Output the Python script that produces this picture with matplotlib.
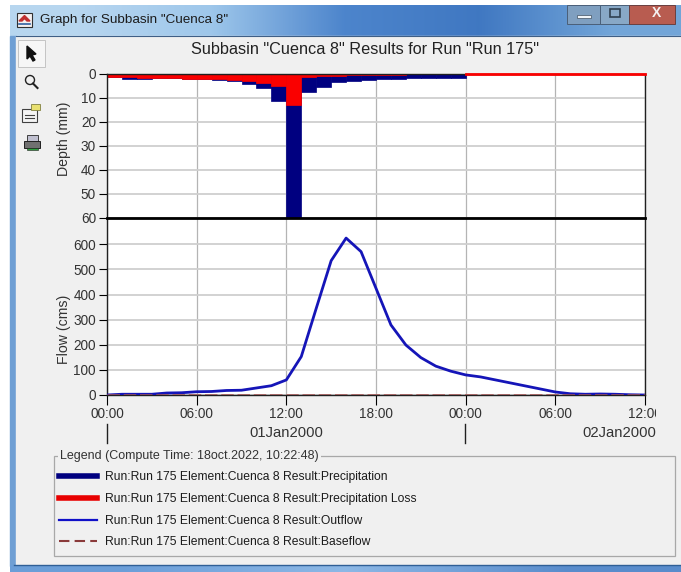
"""HEC-HMS style result window for subbasin Cuenca 8."""

import matplotlib

matplotlib.use("Agg")
import matplotlib.pyplot as plt
import numpy as np
from matplotlib.patches import Polygon, Rectangle

W, H = 681, 572

# hours since 01Jan2000 00:00
BAR_HOURS = list(range(24))
PRECIP = [1.2, 1.9, 1.9, 1.7, 1.8, 1.9, 2.0, 2.6, 3.0, 4.0, 6.0, 11.3,
          60.0, 7.6, 5.4, 3.5, 3.0, 2.5, 2.2, 2.2, 1.8, 1.7, 1.6, 1.5]
LOSS = [1.2, 1.4, 1.5, 1.7, 1.8, 1.9, 2.0, 2.2, 2.5, 3.0, 3.8, 5.0,
        13.0, 1.2, 1.0, 0.7, 0.5, 0.4, 0.3, 0.3, 0.2, 0.2, 0.2, 0.2]
LOSS_LINE_HOURS = [24, 36]
LOSS_LINE = [0, 0]

FLOW_HOURS = list(range(37))
OUTFLOW = [0, 3, 3, 3, 8, 9, 13, 14, 18, 19, 28, 37, 60, 153, 345, 535, 625,
           571, 425, 279, 199, 149, 115, 95, 80, 72, 60, 48, 36, 24, 12,
           5, 3, 4, 3, 1, 0]
BASEFLOW = [1] * 37

DEPTH_TICKS = [0, 10, 20, 30, 40, 50, 60]
FLOW_TICKS = [0, 100, 200, 300, 400, 500, 600]
TIME_TICKS = [0, 6, 12, 18, 24, 30, 36]
TIME_LABELS = ["00:00", "06:00", "12:00", "18:00", "00:00", "06:00", "12:00"]
LEGEND_LABELS = [
    "Run:Run 175 Element:Cuenca 8 Result:Precipitation",
    "Run:Run 175 Element:Cuenca 8 Result:Precipitation Loss",
    "Run:Run 175 Element:Cuenca 8 Result:Outflow",
    "Run:Run 175 Element:Cuenca 8 Result:Baseflow",
]

NAVY = "#000080"
RED = "#fa0000"
GRID_H = "#cfcfcf"
GRID_V = "#b4b4b4"
TEXT = "#333333"
WINDOW = "#f0f0f0"

plt.rcParams["font.family"] = ["Liberation Sans", "DejaVu Sans"]


def px_axes(fig, left, top, right, bottom):
    return fig.add_axes([left / W, 1 - bottom / H, (right - left) / W, (bottom - top) / H])


def draw_chrome(ax):
    ax.set_axis_off()
    # title bar and frame
    colors = np.array([[0.72, 0.84, 0.94], [0.62, 0.78, 0.92], [0.30, 0.52, 0.80],
                       [0.25, 0.47, 0.76], [0.45, 0.65, 0.85]])
    ax.imshow(colors[np.newaxis, :, :], extent=[10, W, 36, 5], aspect="auto",
              interpolation="bilinear", zorder=1)
    ax.add_patch(Rectangle((10, 36), 6, 530, color="#6f9fd4", zorder=1))
    ax.add_patch(Rectangle((16, 36), W - 16, 529, color=WINDOW, zorder=1))
    ax.plot([16, W], [36, 36], color="#3f5f86", lw=0.8, zorder=2)
    ax.imshow(np.array([[[0.42, 0.62, 0.85], [0.55, 0.72, 0.90], [0.35, 0.55, 0.80]]]),
              extent=[10, W, 572, 565], aspect="auto", interpolation="bilinear", zorder=1)
    ax.plot([14, W], [565, 565], color="#2f5f96", lw=1.0, zorder=2)
    ax.text(40, 20, 'Graph for Subbasin "Cuenca 8"', fontsize=9.7, color="#1c1c1c",
            va="center", zorder=3)

    # app icon
    ax.add_patch(Rectangle((17, 13), 15, 14, fc="#f4f0f0", ec="#303030", lw=0.8, zorder=3))
    ax.add_patch(Polygon([(19, 21), (24.5, 15.5), (30, 21), (27, 21), (24.5, 18.5), (22, 21)],
                         color="#c03030", zorder=4))
    ax.plot([19, 30], [24, 24], color="#3060a0", lw=1.2, zorder=4)

    # window buttons
    ax.add_patch(Rectangle((567, 5), 33, 19, fc="#7f9fc0", ec="#4a5f78", lw=0.7, zorder=3))
    ax.add_patch(Rectangle((600, 5), 29, 19, fc="#88a8c6", ec="#4a5f78", lw=0.7, zorder=3))
    ax.add_patch(Rectangle((629, 5), 46, 19, fc="#b85c50", ec="#6a4040", lw=0.7, zorder=3))
    ax.add_patch(Rectangle((577, 15), 14, 3, fc="#f0f4f8", ec="#405060", lw=0.5, zorder=4))
    ax.add_patch(Rectangle((610, 9), 10, 8, fc="none", ec="#304050", lw=1.2, zorder=4))
    ax.text(657, 13, "X", fontsize=10, fontweight="bold", color="#f4f0f0",
            ha="center", va="center", zorder=4)

    # toolbar
    ax.add_patch(Rectangle((18, 40), 27, 27, fc="#f6f6f6", ec="#c4c4c4", lw=0.7, zorder=3))
    ax.add_patch(Polygon([(27, 46), (27, 59), (30, 56), (33, 61), (35, 60), (32, 55), (36, 54)],
                         color="#101010", zorder=4))
    ax.add_patch(plt.Circle((30, 80), 4.5, fc="none", ec="#202020", lw=1.0, zorder=4))
    ax.plot([33, 37.5], [83.5, 88], color="#202020", lw=1.5, zorder=4)
    ax.add_patch(Rectangle((22, 109), 15, 13, fc="#f4f4f4", ec="#404040", lw=0.8, zorder=4))
    ax.plot([25, 34], [115, 115], color="#404040", lw=0.8, zorder=5)
    ax.plot([25, 34], [118, 118], color="#404040", lw=0.8, zorder=5)
    ax.add_patch(Rectangle((31, 104), 9, 6, fc="#e8e070", ec="#808040", lw=0.6, zorder=5))
    ax.add_patch(Rectangle((27, 135), 11, 7, fc="#c0c0d0", ec="#404040", lw=0.7, zorder=4))
    ax.add_patch(Rectangle((24, 141), 16, 7, fc="#707070", ec="#202020", lw=0.7, zorder=4))
    ax.add_patch(Rectangle((27, 148), 11, 2, fc="#30a040", ec="#202020", lw=0.4, zorder=4))

    # long date ticks and date labels
    for x in (107, 465):
        ax.plot([x, x], [424, 443], color="#202020", lw=1.0, zorder=3)
    ax.text(286, 433, "01Jan2000", fontsize=10.6, color=TEXT, ha="center", va="center", zorder=3)
    ax.text(656, 433, "02Jan2000", fontsize=10.6, color=TEXT, ha="right", va="center", zorder=3)

    # legend box
    ax.add_patch(Rectangle((53.5, 455.5), 621, 100, fc="none", ec="#a8a8a8", lw=0.9, zorder=3))
    ax.text(60, 456, "Legend (Compute Time: 18oct.2022, 10:22:48)", fontsize=9.0,
            color=TEXT, va="center", zorder=4, bbox=dict(fc=WINDOW, ec="none", pad=1.5))
    rows = [476, 498, 520, 541]
    handles = [dict(color=NAVY, lw=4.0), dict(color="#e80000", lw=4.0),
               dict(color="#1010c8", lw=1.6), dict(color="#8a3a3a", lw=1.5, ls=(0, (5, 2.5)))]
    for y, label, style in zip(rows, LEGEND_LABELS, handles):
        ax.plot([59, 97], [y, y], zorder=4, **style)
        ax.text(105, y + 1, label, fontsize=8.7, color="#1c1c1c", va="center", zorder=4)

    ax.set_xlim(0, W)
    ax.set_ylim(H, 0)


def style_axes(ax):
    ax.set_facecolor("white")
    ax.grid(True, axis="y", color=GRID_H, lw=1.3)
    ax.grid(True, axis="x", color=GRID_V, lw=0.9)
    ax.set_axisbelow(True)
    ax.set_xlim(0, 36)
    ax.set_xticks(TIME_TICKS)
    ax.tick_params(axis="y", direction="out", length=6, width=0.8, labelsize=9.8,
                   labelcolor=TEXT, pad=2)
    for spine in ax.spines.values():
        spine.set_color("#202020")
        spine.set_linewidth(1.0)


fig = plt.figure(figsize=(W / 100, H / 100), dpi=100, facecolor="white")
chrome = fig.add_axes([0, 0, 1, 1], zorder=0)
draw_chrome(chrome)

ax_bot = px_axes(fig, 107, 218, 645, 395)
ax_top = px_axes(fig, 107, 74, 645, 218)
ax_bot.set_zorder(1)
ax_top.set_zorder(2)

fig.text(365 / W, 1 - 50 / H, 'Subbasin "Cuenca 8" Results for Run "Run 175"',
         fontsize=11.7, color="#222222", ha="center", va="center", zorder=5)

style_axes(ax_top)
ax_top.bar(BAR_HOURS, PRECIP, width=1.0, align="edge", color=NAVY, edgecolor=NAVY, linewidth=0.5)
ax_top.bar(BAR_HOURS, LOSS, width=1.0, align="edge", color=RED, edgecolor=RED, linewidth=0.5)
ax_top.plot(LOSS_LINE_HOURS, LOSS_LINE, color=RED, lw=2.0, clip_on=False, zorder=4)
ax_top.set_ylim(60, 0)
ax_top.set_yticks(DEPTH_TICKS)
ax_top.set_ylabel("Depth (mm)", fontsize=10.2, color=TEXT)
ax_top.yaxis.set_label_coords(-0.067, 0.552)
ax_top.tick_params(axis="x", length=0, labelbottom=False)
ax_top.spines["bottom"].set_linewidth(2.0)
ax_top.spines["bottom"].set_color("black")

style_axes(ax_bot)
ax_bot.plot(FLOW_HOURS, OUTFLOW, color="#1515b8", lw=2.0, zorder=3)
ax_bot.plot(FLOW_HOURS, BASEFLOW, color="#a05050", lw=1.8, ls=(0, (5, 1.5)), zorder=4)
ax_bot.set_ylim(0, 705)
ax_bot.set_yticks(FLOW_TICKS)
ax_bot.set_ylabel("Flow (cms)", fontsize=10.2, color=TEXT)
ax_bot.yaxis.set_label_coords(-0.067, 0.368)
ax_bot.spines["top"].set_visible(False)
ax_bot.set_xticklabels(TIME_LABELS)
ax_bot.tick_params(axis="x", direction="out", length=7, width=0.8, labelsize=9.8,
                   labelcolor=TEXT, pad=1.5)

# the last tick label is cut off by the plot panel edge in the original
clip = Rectangle((0, 0), 656, H, transform=None)
for label in ax_bot.get_xticklabels():
    label.set_clip_path(clip)
    label.set_clip_on(True)

fig.savefig("out.png", dpi=100, facecolor="white")
